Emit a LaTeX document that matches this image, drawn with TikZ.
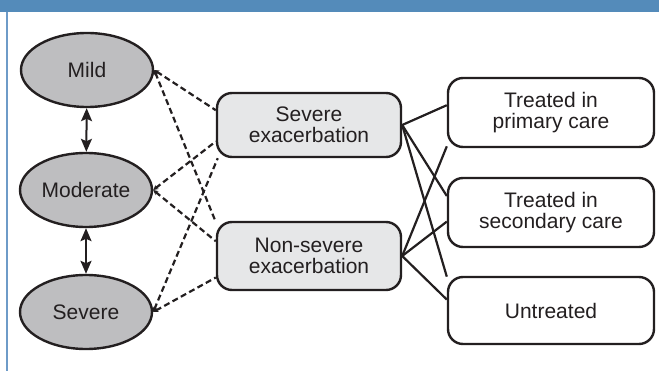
\documentclass[tikz,border=0pt]{standalone}
\usepackage{fontspec}
\setmainfont{Liberation Sans}
\usepackage{tikz}
\usetikzlibrary{arrows.meta, shapes.geometric}
\definecolor{hdrblue}{RGB}{84,139,186}
\definecolor{edgeblue}{RGB}{110,155,200}
\definecolor{sevgray}{RGB}{190,190,192}
\definecolor{exacgray}{RGB}{230,231,232}
\definecolor{inkgray}{RGB}{35,31,32}

\begin{document}
\begin{tikzpicture}[x=1pt, y=-1pt,
    every node/.style={font=\fontsize{21}{21.5}\selectfont, text=inkgray, align=center, inner sep=0pt},
    sevnode/.style={ellipse, draw=inkgray, line width=2.4pt, fill=sevgray, minimum width=132pt, minimum height=74pt},
    exacbox/.style={rectangle, rounded corners=15pt, draw=inkgray, line width=2.4pt, fill=exacgray, minimum width=184pt},
    carebox/.style={rectangle, rounded corners=15pt, draw=inkgray, line width=2.4pt, fill=white, minimum width=206pt},
    dblarrow/.style={{Stealth[length=13pt,width=11pt,inset=2.5pt]}-{Stealth[length=13pt,width=11pt,inset=2.5pt]}, line width=2pt, draw=inkgray},
    dashline/.style={{Stealth[length=5pt,width=5pt]}-, line width=2.2pt, dash pattern=on 6pt off 3.5pt, draw=inkgray},
    careline/.style={line width=2.2pt, draw=inkgray}]
  \useasboundingbox (0,0) rectangle (659,371);
  \fill[hdrblue] (0,0) rectangle (659,12);
  \draw[edgeblue, line width=2.5pt] (7,12) -- (7,371);

  % severity states
  \node[sevnode] (mild) at (87,70) {Mild};
  \node[sevnode] (moderate) at (86,190) {Moderate};
  \node[sevnode] (severe) at (86,312) {Severe};

  % exacerbations
  \node[exacbox, minimum height=64pt] (sevexac) at (309,125) {Severe\\exacerbation};
  \node[exacbox, minimum height=68pt] (nonsevexac) at (309,256) {Non-severe\\exacerbation};

  % treatment
  \node[carebox, minimum height=69pt] (primary) at (551,112.5) {Treated in\\primary care};
  \node[carebox, minimum height=69pt] (secondary) at (551,212.5) {Treated in\\secondary care};
  \node[carebox, minimum height=67pt] (untreated) at (551,310.5) {Untreated};

  \draw[dblarrow] (mild) -- (moderate);
  \draw[dblarrow] (moderate) -- (severe);

  \draw[dashline] (mild.east) -- (sevexac.171);
  \draw[dashline] (mild.east) -- (nonsevexac.160);
  \draw[dashline] (moderate.east) -- (sevexac.190);
  \draw[dashline] (moderate.east) -- (nonsevexac.171);
  \draw[dashline] (severe.east) -- (sevexac.200);
  \draw[dashline] (severe.east) -- (nonsevexac.193);

  \draw[careline] (sevexac.east) -- (primary.176);
  \draw[careline] (sevexac.east) -- (secondary.171);
  \draw[careline] (sevexac.east) -- (untreated.162);
  \draw[careline] (nonsevexac.east) -- (primary.198);
  \draw[careline] (nonsevexac.east) -- (secondary.185);
  \draw[careline] (nonsevexac.east) -- (untreated.174);
\end{tikzpicture}
\end{document}
